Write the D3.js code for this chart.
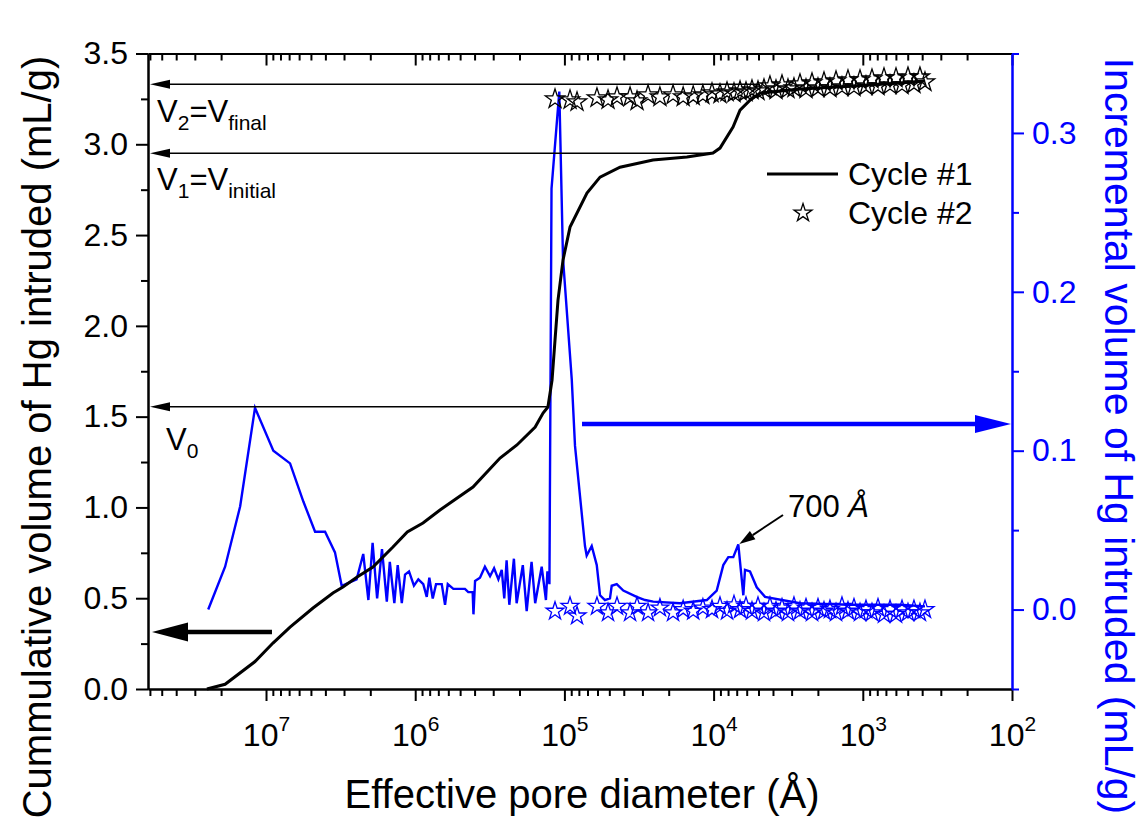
<!DOCTYPE html>
<html lang="en">
<head>
<meta charset="UTF-8">
<script src="https://d3js.org/d3.v7.min.js"></script>
<style>
    body { margin: 0; background: #fff; }
    svg text { font-family: "Liberation Sans", Arial, sans-serif; }
</style>
</head>
<body>
<svg id="chart" width="1142" height="819"></svg>
<script>
// ---- data ----
// x tick labels (pore diameter, Angstrom)
var majorTicksX = [1e7, 1e6, 1e5, 1e4, 1e3, 1e2];
var ticksLeft = [0, 0.5, 1.0, 1.5, 2.0, 2.5, 3.0, 3.5];
var minorLeft = [0.25, 0.75, 1.25, 1.75, 2.25, 2.75, 3.25];
var ticksRight = [0.0, 0.1, 0.2, 0.3];
var minorRight = [-0.05, 0.05, 0.15, 0.25, 0.35];

// Cycle #1, cumulative volume (mL/g)
var c1Diam = [2.49e7, 1.88e7, 1.19e7, 8.98e6, 6.90e6, 4.84e6, 3.56e6, 3.05e6, 2.45e6, 1.92e6,
              1.41e6, 1.13e6, 8.87e5, 6.82e5, 4.10e5, 2.70e5, 2.08e5, 1.57e5, 1.39e5, 1.29e5,
              1.21e5, 1.156e5, 1.104e5, 1.022e5, 9.17e4, 7.06e4, 5.77e4, 4.24e4, 2.55e4, 1.51e4,
              1.01e4, 9.06e3, 7.41e3, 6.65e3, 5.70e3, 4.89e3, 2.64e3, 1.22e3, 563, 383];
var c1Cum = [0.000, 0.026, 0.150, 0.253, 0.341, 0.446, 0.529, 0.562, 0.617, 0.672,
             0.782, 0.865, 0.914, 0.986, 1.112, 1.272, 1.344, 1.443, 1.520, 1.553,
             1.701, 1.922, 2.142, 2.362, 2.544, 2.731, 2.819, 2.874, 2.913, 2.930,
             2.952, 2.979, 3.095, 3.188, 3.243, 3.282, 3.304, 3.320, 3.337, 3.348];

// Cycle #1, incremental volume (mL/g)
var c1IncDiam = [2.44e7, 1.88e7, 1.49e7, 1.185e7, 8.93e6, 6.90e6, 5.62e6, 4.69e6, 4.02e6, 3.45e6,
                 3.11e6, 2.47e6, 2.23e6, 2.06e6, 1.93e6, 1.80e6, 1.67e6, 1.55e6, 1.48e6, 1.38e6,
                 1.31e6, 1.23e6, 1.17e6, 1.10e6, 1.02e6, 9.53e5, 8.83e5, 8.37e5, 8.04e5, 7.63e5,
                 7.25e5, 6.64e5, 6.31e5, 6.05e5, 5.55e5, 5.01e5, 4.64e5, 4.41e5, 4.12e5, 4.07e5,
                 3.97e5, 3.68e5, 3.41e5, 3.15e5, 2.96e5, 2.77e5, 2.63e5, 2.53e5, 2.44e5, 2.34e5,
                 2.18e5, 2.09e5, 1.90e5, 1.79e5, 1.66e5, 1.57e5, 1.42e5, 1.33e5, 1.30e5, 1.26e5,
                 1.22e5, 1.082e5, 1.022e5, 8.93e4, 8.49e4, 7.28e4, 7.09e4, 6.56e4, 6.07e4, 5.77e4,
                 5.35e4, 4.95e4, 4.82e4, 4.46e4, 4.03e4, 3.28e4, 2.88e4, 2.54e4, 1.68e4, 1.11e4,
                 9.53e3, 8.61e3, 7.97e3, 7.38e3, 6.83e3, 6.32e3, 6.16e3, 5.70e3, 5.14e3, 4.52e3,
                 2.64e3, 1.22e3, 563, 383];
var c1Inc = [0.000, 0.027, 0.065, 0.127, 0.100, 0.092, 0.068, 0.049, 0.049, 0.036,
             0.015, 0.019, 0.035, 0.006, 0.042, 0.007, 0.038, 0.005, 0.030, 0.004,
             0.028, 0.004, 0.022, 0.024, 0.015, 0.019, 0.016, 0.008, 0.020, 0.007,
             0.016, 0.016, 0.003, 0.016, 0.013, 0.013, 0.013, 0.011, 0.011, -0.003,
             0.018, 0.020, 0.027, 0.021, 0.026, 0.019, 0.025, 0.007, 0.031, 0.003,
             0.032, 0.004, 0.028, -0.001, 0.030, 0.004, 0.027, 0.006, 0.024, 0.016,
             0.265, 0.326, 0.221, 0.145, 0.103, 0.040, 0.034, 0.040, 0.028, 0.009,
             0.006, 0.007, 0.015, 0.016, 0.012, 0.008, 0.006, 0.005, 0.004, 0.006,
             0.012, 0.028, 0.033, 0.033, 0.041, 0.009, 0.025, 0.024, 0.014, 0.008,
             0.004, 0.003, 0.003, 0.002];

// Cycle #2 (stars): diameters, cumulative and incremental volume
var c2Diam = [1.156e5, 9.17e4, 8.23e4, 6.05e4, 5.10e4, 4.44e4, 3.63e4, 3.26e4, 2.75e4, 2.29e4,
              1.87e4, 1.60e4, 1.37e4, 1.18e4, 1.025e4, 9060, 8130, 7300, 6650, 6065,
              5530, 5040, 4595, 4190, 3818, 3480, 3173, 2893, 2636, 2403,
              2190, 1997, 1820, 1660, 1512, 1379, 1257, 1146, 1044, 952,
              868, 791, 721, 657, 599, 546, 498, 454, 414, 383];
var c2Cum = [3.249, 3.244, 3.233, 3.255, 3.244, 3.260, 3.260, 3.238, 3.271, 3.260,
             3.271, 3.260, 3.266, 3.271, 3.282, 3.277, 3.288, 3.282, 3.293, 3.288,
             3.299, 3.293, 3.304, 3.321, 3.299, 3.326, 3.304, 3.310, 3.332, 3.304,
             3.337, 3.310, 3.343, 3.310, 3.348, 3.315, 3.354, 3.315, 3.354, 3.321,
             3.359, 3.321, 3.365, 3.326, 3.365, 3.326, 3.370, 3.332, 3.370, 3.343];
var c2Inc = [-0.001, 0.002, -0.004, 0.002, -0.002, 0.002, -0.002, 0.002, -0.002, 0.001,
             -0.002, 0.000, -0.001, 0.001, 0.000, 0.002, -0.001, 0.003, 0.000, 0.002,
             -0.001, 0.002, -0.002, 0.002, -0.001, 0.001, -0.002, 0.002, -0.001, 0.001,
             -0.002, 0.001, -0.001, 0.000, -0.002, 0.002, -0.001, 0.001, -0.002, 0.000,
             -0.002, 0.001, -0.003, 0.000, -0.003, 0.000, -0.002, 0.000, -0.002, 0.000];

// ---- layout ----
var L = 148, R = 1012, T = 53.5, B = 689;
var blue = "#0000ff";
var svg = d3.select("#chart");

var x = d3.scaleLog().domain([6.18e7, 100]).range([L, R]);
var yL = d3.scaleLinear().domain([0, 3.5]).range([B, T]);
var yR = d3.scaleLinear().domain([-0.05, 0.35]).range([B, T]);

// minor log ticks 2..9 x 10^n inside the domain
var minorX = [];
for (var e = 2; e <= 7; e++) {
    for (var m = 2; m <= 9; m++) {
        var v = m * Math.pow(10, e);
        if (v < x.domain()[0]) minorX.push(v);
    }
}

function styleAxis(g, color) {
    g.attr("color", color);
    g.selectAll("g").attr("font-family", null).attr("font-size", null);
    g.attr("font-family", null).attr("font-size", null);
    g.selectAll("text").style("font-size", "32px");
    g.selectAll("path, line").attr("stroke-width", 2);
}

// bottom axis
var gB = svg.append("g").attr("transform", "translate(0," + B + ")");
gB.call(d3.axisBottom(x).tickValues(minorX).tickSize(7).tickSizeOuter(0).tickFormat(""));
gB.append("g").call(d3.axisBottom(x).tickValues(majorTicksX).tickSize(12).tickSizeOuter(0)
    .tickPadding(22).tickFormat(function() { return "10"; }));
styleAxis(gB, "#000");
gB.selectAll(".tick text").filter(function() { return this.textContent === "10"; })
    .append("tspan").attr("dy", "-0.72em").style("font-size", "21px")
    .text(function(d) { return Math.round(Math.log10(d)); });

// top axis (ticks pointing inward)
var gT = svg.append("g").attr("transform", "translate(0," + T + ")");
gT.call(d3.axisBottom(x).tickValues(minorX).tickSize(7).tickSizeOuter(0).tickFormat(""));
gT.append("g").call(d3.axisBottom(x).tickValues(majorTicksX).tickSize(12).tickSizeOuter(0).tickFormat(""));
styleAxis(gT, "#000");

// left axis
var gL = svg.append("g").attr("transform", "translate(" + L + ",0)");
gL.call(d3.axisLeft(yL).tickValues(minorLeft).tickSize(7).tickSizeOuter(0).tickFormat(""));
gL.append("g").call(d3.axisLeft(yL).tickValues(ticksLeft).tickSize(12).tickSizeOuter(0)
    .tickPadding(8).tickFormat(d3.format(".1f")));
styleAxis(gL, "#000");

// right axis (blue)
var gR = svg.append("g").attr("transform", "translate(" + R + ",0)");
gR.call(d3.axisRight(yR).tickValues(minorRight).tickSize(7).tickSizeOuter(0).tickFormat(""));
gR.append("g").call(d3.axisRight(yR).tickValues(ticksRight).tickSize(12).tickSizeOuter(0)
    .tickPadding(8).tickFormat(d3.format(".1f")));
styleAxis(gR, blue);

// axis titles
svg.append("text").attr("x", 582).attr("y", 808).attr("text-anchor", "middle")
    .style("font-size", "40px").text("Effective pore diameter (\u00C5)");
svg.append("text").attr("transform", "translate(51,437) rotate(-90)").attr("text-anchor", "middle")
    .style("font-size", "40px").text("Cummulative volume of Hg intruded (mL/g)");
svg.append("text").attr("transform", "translate(1105,436) rotate(90)").attr("text-anchor", "middle")
    .attr("fill", blue).style("font-size", "41px").text("Incremental volume of Hg intruded (mL/g)");

// ---- series ----
var cumLine = d3.line().x(function(d) { return x(d[0]); }).y(function(d) { return yL(d[1]); });
var incLine = d3.line().x(function(d) { return x(d[0]); }).y(function(d) { return yR(d[1]); });

svg.append("path").datum(d3.zip(c1IncDiam, c1Inc))
    .attr("d", incLine).attr("fill", "none").attr("stroke", blue).attr("stroke-width", 2.4)
    .attr("stroke-linejoin", "miter");

svg.append("path").datum(d3.zip(c1Diam, c1Cum))
    .attr("d", cumLine).attr("fill", "none").attr("stroke", "#000").attr("stroke-width", 3);

var star = d3.symbol().type(d3.symbolStar);

svg.append("g").selectAll("path").data(d3.zip(c2Diam, c2Cum)).enter().append("path")
    .attr("d", star.size(115))
    .attr("transform", function(d) { return "translate(" + x(d[0]) + "," + yL(d[1]) + ")"; })
    .attr("fill", "none").attr("stroke", "#000").attr("stroke-width", 1.3);

svg.append("g").selectAll("path").data(d3.zip(c2Diam, c2Inc)).enter().append("path")
    .attr("d", star.size(100))
    .attr("transform", function(d) { return "translate(" + x(d[0]) + "," + yR(d[1]) + ")"; })
    .attr("fill", "none").attr("stroke", blue).attr("stroke-width", 1.3);

// ---- annotations ----
function arrow(x1, y1, x2, y2, color, width, headLen, headHalf) {
    var ang = Math.atan2(y2 - y1, x2 - x1);
    var bx = x2 - headLen * Math.cos(ang), by = y2 - headLen * Math.sin(ang);
    svg.append("line").attr("x1", x1).attr("y1", y1).attr("x2", bx).attr("y2", by)
        .attr("stroke", color).attr("stroke-width", width);
    var px = -Math.sin(ang) * headHalf, py = Math.cos(ang) * headHalf;
    svg.append("path")
        .attr("d", "M" + x2 + "," + y2 + "L" + (bx + px) + "," + (by + py) + "L" + (bx - px) + "," + (by - py) + "Z")
        .attr("fill", color);
}

// V levels pointing to the left axis
var levels = [[3.330, 4.89e3], [2.950, 1.01e4], [1.555, 1.29e5]];
levels.forEach(function(lv) {
    arrow(x(lv[1]), yL(lv[0]), L + 2, yL(lv[0]), "#000", 1.5, 20, 4.5);
});

function vLabel(px, py, sub) {
    var t = svg.append("text").attr("x", px).attr("y", py).style("font-size", "31px");
    t.append("tspan").text("V");
    t.append("tspan").attr("dy", 8).style("font-size", "21px").text(sub[0]);
    if (sub.length > 1) {
        t.append("tspan").attr("dy", -8).text("=V");
        t.append("tspan").attr("dy", 8).style("font-size", "21px").text(sub[1]);
    }
}
vLabel(157, 122, ["2", "final"]);
vLabel(157, 190, ["1", "initial"]);
vLabel(166, 450, ["0"]);

// thick arrows showing which axis each curve uses
arrow(x(9.12e6), yL(0.314), L + 4, yL(0.314), "#000", 4.5, 36, 9.5);
arrow(x(7.62e4), yR(0.1168), R - 1, yR(0.1168), blue, 4.5, 36, 9);

// 700 A peak
arrow(783, 515, x(6830) + 1, yR(0.0413), "#000", 2, 16, 5);
var pk = svg.append("text").attr("x", 788).attr("y", 517).style("font-size", "31px");
pk.append("tspan").text("700 ");
pk.append("tspan").style("font-style", "italic").text("\u00C5");

// legend
svg.append("line").attr("x1", 767).attr("x2", 838).attr("y1", 174).attr("y2", 174)
    .attr("stroke", "#000").attr("stroke-width", 3);
svg.append("text").attr("x", 848).attr("y", 185).style("font-size", "32px").text("Cycle #1");
svg.append("path").attr("d", star.size(100)).attr("transform", "translate(803,213)")
    .attr("fill", "none").attr("stroke", "#000").attr("stroke-width", 1.3);
svg.append("text").attr("x", 848).attr("y", 224).style("font-size", "32px").text("Cycle #2");
</script>
</body>
</html>
